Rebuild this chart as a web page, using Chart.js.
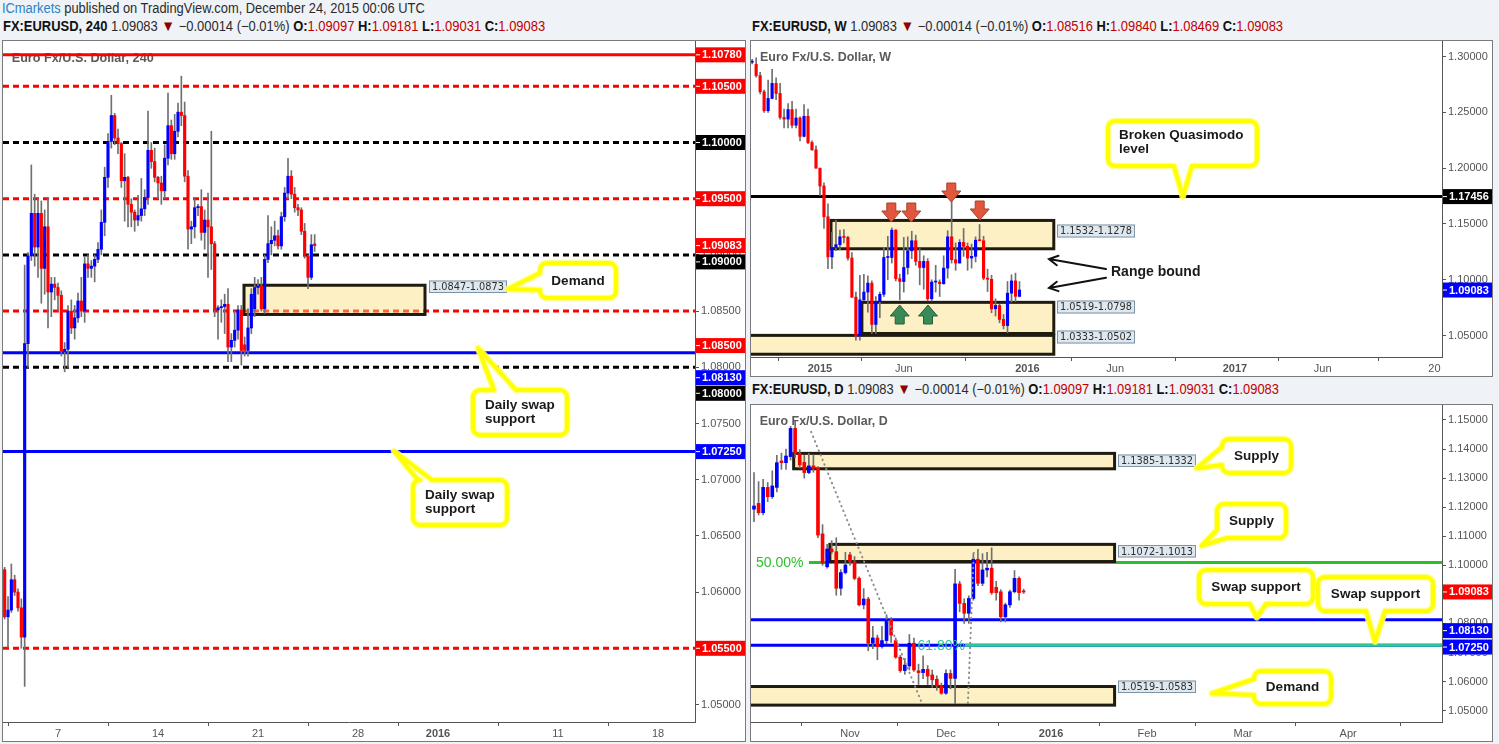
<!DOCTYPE html>
<html>
<head>
<meta charset="utf-8">
<title>EURUSD 240 / W / D</title>
<script src="https://cdn.jsdelivr.net/npm/chart.js@4/dist/chart.umd.min.js"></script>
<style>
  html, body { margin: 0; padding: 0; }
  body { width: 1499px; height: 744px; background: #eff2f6; position: relative; overflow: hidden;
         font-family: "Liberation Sans", Arial, sans-serif; }
  .panel { position: absolute; box-sizing: border-box; border: 1px solid #7a7a7a; background: #fff; }
  canvas { position: absolute; }
  .hdr { position: absolute; white-space: nowrap; font-size: 14px; line-height: 16px; color: #2b2b2b; transform-origin: 0 50%; }
  .hdr b { font-weight: bold; color: #111; }
  .hdr .ic { color: #2b83c6; }
  .hdr .v { color: #c00000; }
  .hdr .dn { color: #8b0000; font-size: 15px; }
</style>
</head>
<body>
<div class="panel" style="left:2px;top:40px;width:744px;height:702px"></div>
<div class="panel" style="left:750px;top:40px;width:743px;height:337px"></div>
<div class="panel" style="left:750px;top:404px;width:743px;height:338px"></div>
<canvas id="c4h" width="742" height="700" style="left:3px;top:41px"></canvas>
<canvas id="cw" width="741" height="335" style="left:751px;top:41px"></canvas>
<canvas id="cd" width="741" height="336" style="left:751px;top:405px"></canvas>
<div class="hdr" id="hTop" style="left:2px;top:0px"><span class="ic">ICmarkets</span> published on TradingView.com, December 24, 2015 00:06 UTC</div>
<div class="hdr" id="h4" style="left:3px;top:18px"></div>
<div class="hdr" id="hW" style="left:752px;top:18px"></div>
<div class="hdr" id="hD" style="left:752px;top:381px"></div>
<script>
// ---------- 4H candles (Dec 2 - Dec 24, 2015) ----------
const h4Open = [1.0605,1.0620,1.0578,1.0584,1.0611,1.0600,1.0586,1.0560,1.0821,1.0899,
  1.0937,1.0907,1.0937,1.0888,1.0925,1.0867,1.0874,1.0871,1.0864,1.0814,
  1.0816,1.0850,1.0835,1.0844,1.0859,1.0850,1.0892,1.0888,1.0890,1.0896,
  1.0905,1.0929,1.0969,1.1001,1.1024,1.1004,1.0999,1.0966,1.0969,1.0945,
  1.0938,1.0931,1.0935,1.0941,1.0951,1.0993,1.0983,1.0969,1.0964,1.0957,
  1.0986,1.1015,1.0990,1.1010,1.1027,1.1024,1.0970,1.0923,1.0925,1.0942,
  1.0943,1.0920,1.0931,1.0925,1.0910,1.0851,1.0853,1.0854,1.0856,1.0818,
  1.0824,1.0833,1.0851,1.0820,1.0815,1.0835,1.0852,1.0871,1.0872,1.0852,
  1.0896,1.0910,1.0913,1.0917,1.0908,1.0934,1.0955,1.0970,1.0954,1.0942,
  1.0940,1.0921,1.0899,1.0880,1.09097];
const h4High = [1.0615,1.0622,1.0596,1.0625,1.0615,1.0603,1.0594,1.0891,1.0902,1.0980,
  1.0954,1.0950,1.0948,1.0940,1.0950,1.0880,1.0880,1.0875,1.0868,1.0822,
  1.0855,1.0860,1.0855,1.0866,1.0880,1.0898,1.0900,1.0895,1.0900,1.0911,
  1.0940,1.0978,1.1008,1.1042,1.1026,1.1012,1.1000,1.0990,1.0970,1.0950,
  1.0940,1.0953,1.0968,1.0958,1.1028,1.1000,1.0995,1.0970,1.0970,1.0998,
  1.1044,1.1020,1.1025,1.1035,1.1059,1.1036,1.0975,1.0930,1.0950,1.0945,
  1.0958,1.0940,1.0955,1.1010,1.0912,1.0855,1.0860,1.0865,1.0870,1.0830,
  1.0850,1.0855,1.0855,1.0827,1.0852,1.0870,1.0880,1.0878,1.0880,1.0900,
  1.0935,1.0925,1.0930,1.0922,1.0938,1.0960,1.0986,1.0975,1.0960,1.0945,
  1.0942,1.0928,1.0900,1.0918,1.09181];
const h4Low = [1.0600,1.0576,1.0551,1.0582,1.0597,1.0583,1.0550,1.0516,1.0800,1.0895,
  1.0890,1.0880,1.0857,1.0865,1.0835,1.0845,1.0860,1.0850,1.0810,1.0796,
  1.0800,1.0830,1.0825,1.0840,1.0845,1.0840,1.0880,1.0880,1.0876,1.0893,
  1.0900,1.0917,1.0960,1.0995,1.0998,1.0990,1.0960,1.0930,1.0925,1.0925,
  1.0921,1.0926,1.0930,1.0935,1.0945,1.0977,1.0965,1.0950,1.0945,1.0950,
  1.0980,1.0985,1.0985,1.1005,1.1015,1.0965,1.0905,1.0910,1.0915,1.0935,
  1.0913,1.0905,1.0880,1.0887,1.0845,1.0825,1.0840,1.0830,1.0805,1.0805,
  1.0818,1.0825,1.0802,1.0810,1.0810,1.0830,1.0845,1.0865,1.0850,1.0848,
  1.0893,1.0900,1.0908,1.0905,1.0905,1.0930,1.0950,1.0950,1.0938,1.0935,
  1.0918,1.0897,1.0870,1.0878,1.09031];
const h4Close = [1.0612,1.0578,1.0584,1.0611,1.0600,1.0586,1.0560,1.0821,1.0899,1.0937,
  1.0907,1.0937,1.0888,1.0925,1.0867,1.0874,1.0871,1.0864,1.0814,1.0816,
  1.0850,1.0835,1.0844,1.0859,1.0850,1.0892,1.0888,1.0890,1.0896,1.0905,
  1.0929,1.0969,1.1001,1.1024,1.1004,1.0999,1.0966,1.0969,1.0945,1.0938,
  1.0931,1.0935,1.0941,1.0951,1.0993,1.0983,1.0969,1.0964,1.0957,1.0986,
  1.1015,1.0990,1.1010,1.1027,1.1024,1.0970,1.0923,1.0925,1.0942,1.0943,
  1.0920,1.0931,1.0925,1.0910,1.0851,1.0853,1.0854,1.0856,1.0818,1.0824,
  1.0833,1.0851,1.0815,1.0815,1.0835,1.0865,1.0871,1.0872,1.0852,1.0896,
  1.0910,1.0913,1.0917,1.0908,1.0934,1.0955,1.0970,1.0954,1.0942,1.0940,
  1.0921,1.0899,1.0880,1.0909,1.09083];
const h4TickIdx = [17, 47, 77, 107, 131, 167, 197];
const h4TickLabels = ['7', '14', '21', '28', '2016', '11', '18'];
const h4PriceTicks = [1.05, 1.055, 1.06, 1.065, 1.07, 1.075, 1.08, 1.085, 1.09, 1.095, 1.10, 1.105];
const h4Levels = [1.1078, 1.1050, 1.1000, 1.0950, 1.0900, 1.0850, 1.0813, 1.0800, 1.0725, 1.0550];
const h4Demand = [1.0847, 1.0873];

// ---------- Weekly candles (Sep 2014 - Dec 2015) ----------
const wkOpen = [1.2950,1.2930,1.2830,1.2685,1.2515,1.2625,1.2760,1.2670,1.2455,1.2440,
  1.2525,1.2385,1.2450,1.2285,1.2465,1.2230,1.2165,1.2000,1.1840,1.1565,
  1.1205,1.1290,1.1315,1.1385,1.1380,1.1195,1.0845,1.0495,1.0820,1.0890,
  1.0970,1.0600,1.0805,1.0870,1.1200,1.1200,1.1445,1.1010,1.0985,1.1110,
  1.1260,1.1350,1.1165,1.1110,1.1165,1.0830,1.0980,1.0980,1.0965,1.1105,
  1.1385,1.1180,1.1150,1.1335,1.1300,1.1195,1.1210,1.1355,1.1350,1.1015,
  1.1005,1.0740,1.0770,1.0645,1.0590,1.0880,1.0990,1.08516];
const wkHigh = [1.2975,1.2990,1.2860,1.2700,1.2790,1.2887,1.2810,1.2760,1.2530,1.2580,
  1.2600,1.2530,1.2460,1.2570,1.2530,1.2245,1.2200,1.2000,1.1870,1.1680,
  1.1425,1.1535,1.1445,1.1450,1.1390,1.1245,1.0890,1.1040,1.1050,1.1035,
  1.0990,1.0850,1.0890,1.1290,1.1390,1.1465,1.1450,1.1050,1.1380,1.1385,
  1.1435,1.1400,1.1280,1.1215,1.1190,1.1000,1.1130,1.1000,1.1215,1.1440,
  1.1715,1.1330,1.1360,1.1460,1.1330,1.1320,1.1385,1.1495,1.1390,1.1095,
  1.1040,1.0830,1.0780,1.0690,1.0985,1.1045,1.1060,1.09840];
const wkLow = [1.2935,1.2815,1.2665,1.2500,1.2500,1.2620,1.2615,1.2440,1.2360,1.2360,
  1.2360,1.2360,1.2245,1.2280,1.2220,1.2160,1.2000,1.1755,1.1460,1.1100,
  1.1100,1.1260,1.1270,1.1330,1.1175,1.0840,1.0460,1.0460,1.0815,1.0710,
  1.0520,1.0520,1.0660,1.0850,1.1000,1.1150,1.0990,1.0820,1.0890,1.1050,
  1.1190,1.1130,1.0955,1.0915,1.0810,1.0810,1.0890,1.0850,1.0960,1.1015,
  1.1150,1.1085,1.1150,1.1210,1.1085,1.1105,1.1160,1.1350,1.1000,1.0895,
  1.0705,1.0675,1.0615,1.0560,1.0525,1.0800,1.0805,1.08469];
const wkClose = [1.2957,1.2830,1.2685,1.2515,1.2625,1.2760,1.2670,1.2455,1.2440,1.2525,
  1.2385,1.2450,1.2285,1.2465,1.2230,1.2165,1.2000,1.1840,1.1565,1.1205,
  1.1290,1.1315,1.1385,1.1380,1.1195,1.0845,1.0495,1.0820,1.0890,1.0970,
  1.0600,1.0805,1.0870,1.1200,1.1200,1.1445,1.1010,1.0985,1.1110,1.1260,
  1.1350,1.1165,1.1110,1.1165,1.0830,1.0980,1.0980,1.0965,1.1105,1.1385,
  1.1180,1.1150,1.1335,1.1300,1.1195,1.1210,1.1355,1.1350,1.1015,1.1005,
  1.0740,1.0770,1.0645,1.0590,1.0880,1.0990,1.0852,1.09083];
const wkTickIdx = [17, 38, 69, 91, 121, 143, 171];
const wkTickLabels = ['2015', 'Jun', '2016', 'Jun', '2017', 'Jun', '20'];
const wkPriceTicks = [1.05, 1.10, 1.15, 1.20, 1.25, 1.30];
const wkQuasimodo = 1.17456;
const wkZones = [[1.1278, 1.1532], [1.0519, 1.0798], [1.0333, 1.0502]];
const wkZoneLabels = ['1.1532-1.1278', '1.0519-1.0798', '1.0333-1.0502'];

// ---------- Daily candles (Oct 2 - Dec 24, 2015) ----------
const dOpen = [1.1193,1.1213,1.1181,1.1268,1.1236,1.1268,1.1359,1.1353,1.1374,1.1471,
  1.1385,1.1354,1.1319,1.1342,1.1334,1.1108,1.0995,1.1056,1.1047,1.0921,
  1.0975,1.1036,1.1013,1.0955,1.0864,1.0884,1.0732,1.0750,1.0720,1.0741,
  1.0812,1.0741,1.0684,1.0638,1.0654,1.0732,1.0637,1.0631,1.0642,1.0623,
  1.0608,1.0585,1.0560,1.0628,1.0611,1.0936,1.0869,1.0835,1.0886,1.1021,
  1.0938,1.0984,1.0990,1.0924,1.0909,1.0823,1.0864,1.0909,1.0955,1.09097];
const dHigh = [1.1319,1.1288,1.1296,1.1285,1.1325,1.1378,1.1386,1.1400,1.1478,1.1495,
  1.1398,1.1378,1.1385,1.1380,1.1340,1.1140,1.1072,1.1085,1.1095,1.0985,
  1.1045,1.1045,1.1030,1.0960,1.0920,1.0890,1.0790,1.0760,1.0790,1.0830,
  1.0820,1.0750,1.0690,1.0680,1.0762,1.0750,1.0660,1.0689,1.0655,1.0640,
  1.0620,1.0595,1.0640,1.0640,1.0986,1.0945,1.0885,1.0895,1.1040,1.1055,
  1.1040,1.1045,1.1060,1.0945,1.0916,1.0870,1.0915,1.0982,1.0960,1.09181];
const dLow = [1.1150,1.1173,1.1173,1.1219,1.1230,1.1252,1.1330,1.1330,1.1362,1.1370,
  1.1335,1.1300,1.1315,1.1320,1.1095,1.1000,1.0990,1.1040,1.0897,1.0897,
  1.0970,1.1000,1.0950,1.0860,1.0850,1.0706,1.0713,1.0675,1.0715,1.0730,
  1.0735,1.0680,1.0632,1.0625,1.0640,1.0635,1.0590,1.0610,1.0590,1.0580,
  1.0570,1.0556,1.0556,1.0575,1.0524,1.0840,1.0800,1.0800,1.0880,1.0930,
  1.0930,1.0960,1.0900,1.0880,1.0805,1.0805,1.0855,1.0905,1.0880,1.09031];
const dClose = [1.1204,1.1181,1.1268,1.1236,1.1273,1.1353,1.1353,1.1376,1.1471,1.1385,
  1.1345,1.1319,1.1342,1.1334,1.1104,1.1007,1.1056,1.1047,1.0921,1.0975,
  1.1001,1.1013,1.0955,1.0864,1.0884,1.0732,1.0750,1.0720,1.0741,1.0812,
  1.0760,1.0684,1.0638,1.0657,1.0732,1.0640,1.0631,1.0642,1.0619,1.0606,
  1.0585,1.0560,1.0628,1.0611,1.0936,1.0869,1.0835,1.0886,1.1021,1.0938,
  1.0984,1.0990,1.0906,1.0906,1.0823,1.0864,1.0909,1.0955,1.0906,1.09083];
const dTickIdx = [21, 42, 65, 86, 107, 130];
const dTickLabels = ['Nov', 'Dec', '2016', 'Feb', 'Mar', 'Apr'];
const dPriceTicks = [1.05, 1.06, 1.07, 1.08, 1.09, 1.10, 1.11, 1.12, 1.13, 1.14, 1.15];
const dSwapLevels = [1.0813, 1.0725];
const dFibLevels = [1.1010, 1.0725];
const dFibLabels = ['50.00%', '61.80%'];
const dZones = [[1.1332, 1.1385], [1.1013, 1.1072], [1.0519, 1.0583]];
const dZoneLabels = ['1.1385-1.1332', '1.1072-1.1013', '1.0519-1.0583'];

const UP = '#0000ff', DOWN = '#ff0000', WICK = '#707070';
const RED = '#ff0000', BLUE = '#0000ff', BLACK = '#000000';
const DASH = [6, 4];
const CALLOUT_FONT = 'bold 13.5px "Liberation Sans"';

// ---------- header lines ----------
function hdr(id, tf, o, h, l, c) {
  const f = v => v.toFixed(5);
  document.getElementById(id).innerHTML =
    '<b>FX:EURUSD, ' + tf + '</b> ' + f(c) + ' <span class="dn">&#9660;</span> &minus;0.00014 (&minus;0.01%) ' +
    '<b>O:</b><span class="v">' + f(o) + '</span> <b>H:</b><span class="v">' + f(h) + '</span> ' +
    '<b>L:</b><span class="v">' + f(l) + '</span> <b>C:</b><span class="v">' + f(c) + '</span>';
}
const last = a => a[a.length - 1];
hdr('h4', '240', last(h4Open), last(h4High), last(h4Low), last(h4Close));
hdr('hW', 'W', last(wkOpen), last(wkHigh), last(wkLow), last(wkClose));
hdr('hD', 'D', last(dOpen), last(dHigh), last(dLow), last(dClose));
[['hTop', 423], ['h4', 542], ['hW', 531], ['hD', 527]].forEach(([id, w]) => {
  const el = document.getElementById(id);
  el.style.transform = 'scaleX(' + (w / el.offsetWidth) + ')';
});

// ---------- drawing helpers ----------
function fitText(ctx, text, x, y, w, font, color, align) {
  ctx.save();
  ctx.font = font; ctx.fillStyle = color; ctx.textBaseline = 'middle'; ctx.textAlign = 'left';
  const m = ctx.measureText(text).width;
  const s = w ? w / m : 1;
  const x0 = align === 'center' ? x - m * s / 2 : align === 'right' ? x - m * s : x;
  ctx.translate(x0, y); ctx.scale(s, 1); ctx.fillText(text, 0, 0);
  ctx.restore();
}

function callout(ctx, C, ox, oy) {
  const x = C.box[0] - ox, y = C.box[1] - oy, w = C.box[2], h = C.box[3], r = 7;
  const tx = C.tip[0] - ox, ty = C.tip[1] - oy, side = C.side;
  let b1, b2;
  if (side === 'left') { b1 = C.base[0] - oy; b2 = C.base[1] - oy; }
  else if (side === 'bl') { b1 = C.base[0] - ox; b2 = C.base[1] - oy; }
  else { b1 = C.base[0] - ox; b2 = C.base[1] - ox; }
  ctx.beginPath();
  ctx.moveTo(x + r, y);
  if (side === 'top') { ctx.lineTo(b1, y); ctx.lineTo(tx, ty); ctx.lineTo(b2, y); }
  ctx.lineTo(x + w - r, y);
  ctx.arcTo(x + w, y, x + w, y + r, r);
  ctx.lineTo(x + w, y + h - r);
  ctx.arcTo(x + w, y + h, x + w - r, y + h, r);
  if (side === 'bottom') { ctx.lineTo(b2, y + h); ctx.lineTo(tx, ty); ctx.lineTo(b1, y + h); }
  if (side === 'bl') { ctx.lineTo(b1, y + h); ctx.lineTo(tx, ty); ctx.lineTo(x, b2); }
  else { ctx.lineTo(x + r, y + h); ctx.arcTo(x, y + h, x, y + h - r, r); }
  if (side === 'left') { ctx.lineTo(x, b2); ctx.lineTo(tx, ty); ctx.lineTo(x, b1); }
  ctx.lineTo(x, y + r);
  ctx.arcTo(x, y, x + r, y, r);
  ctx.closePath();
  ctx.fillStyle = '#ffffff'; ctx.fill();
  ctx.lineJoin = 'round';
  ctx.strokeStyle = 'rgba(255,255,120,0.85)'; ctx.lineWidth = 6.5; ctx.stroke();
  ctx.strokeStyle = '#ffff00'; ctx.lineWidth = 4; ctx.stroke();
  for (const t of C.text) {
    fitText(ctx, t[0], t[1] - ox, t[2] - oy, null, CALLOUT_FONT, '#1a1a1a', t[3] || 'left');
  }
}

function blockArrow(ctx, tx, ty, dir, fill, stroke) {
  const s = dir === 'down' ? -1 : 1, hw = 9.5, sw = 4.5, hh = 11, tot = 19;
  ctx.beginPath();
  ctx.moveTo(tx, ty);
  ctx.lineTo(tx - hw, ty + s * hh); ctx.lineTo(tx - sw, ty + s * hh);
  ctx.lineTo(tx - sw, ty + s * tot); ctx.lineTo(tx + sw, ty + s * tot);
  ctx.lineTo(tx + sw, ty + s * hh); ctx.lineTo(tx + hw, ty + s * hh);
  ctx.closePath();
  ctx.fillStyle = fill; ctx.fill();
  ctx.strokeStyle = stroke; ctx.lineWidth = 1; ctx.stroke();
}

function openArrow(ctx, x1, y1, x2, y2) {
  const ang = Math.atan2(y2 - y1, x2 - x1), len = 10, spread = 0.5;
  ctx.strokeStyle = '#111'; ctx.lineWidth = 2; ctx.lineCap = 'round';
  ctx.beginPath(); ctx.moveTo(x1, y1); ctx.lineTo(x2, y2);
  ctx.moveTo(x2 - len * Math.cos(ang - spread), y2 - len * Math.sin(ang - spread));
  ctx.lineTo(x2, y2);
  ctx.lineTo(x2 - len * Math.cos(ang + spread), y2 - len * Math.sin(ang + spread));
  ctx.stroke();
}

function makeDrawings(A) {
  const ox = A.origin[0], oy = A.origin[1];
  return {
    id: 'drawings',
    beforeDatasetsDraw(chart) {
      const {ctx, chartArea: a, scales: {x, y}} = chart;
      ctx.save();
      ctx.beginPath(); ctx.rect(a.left, a.top, a.width, a.height); ctx.clip();
      const T = A.title;
      fitText(ctx, T[0], T[1] - ox, T[2] - oy, T[3], 'bold 13px "Liberation Sans"', '#5a5a5a', 'left');
      for (const L of A.lines) {
        const py = y.getPixelForValue(L.v);
        const x0 = L.from != null ? x.getPixelForValue(L.from) : a.left;
        ctx.strokeStyle = L.c; ctx.lineWidth = L.w || 3; ctx.setLineDash(L.dash || []);
        ctx.beginPath(); ctx.moveTo(x0, py); ctx.lineTo(a.right, py); ctx.stroke();
      }
      ctx.setLineDash([]);
      for (const Z of A.zones) {
        const x0 = x.getPixelForValue(Z.from), x1 = x.getPixelForValue(Z.to);
        const y0 = y.getPixelForValue(Z.hi), y1 = y.getPixelForValue(Z.lo);
        ctx.fillStyle = 'rgba(250,222,126,0.46)';
        ctx.fillRect(x0, y0, x1 - x0, y1 - y0);
        ctx.strokeStyle = '#1f1b10'; ctx.lineWidth = 3;
        ctx.strokeRect(x0, y0, x1 - x0, y1 - y0);
      }
      ctx.restore();
    },
    afterDatasetsDraw(chart) {
      const {ctx, chartArea: a, scales: {x, y}} = chart;
      ctx.save();
      ctx.beginPath(); ctx.rect(a.left, a.top, a.width, a.height); ctx.clip();
      for (const D of A.dotted || []) {
        ctx.strokeStyle = '#8c8c8c'; ctx.lineWidth = 2; ctx.lineCap = 'round'; ctx.setLineDash([0.5, 4.5]);
        ctx.beginPath();
        ctx.moveTo(x.getPixelForValue(D[0]), y.getPixelForValue(D[1]));
        ctx.lineTo(x.getPixelForValue(D[2]), y.getPixelForValue(D[3]));
        ctx.stroke();
      }
      ctx.setLineDash([]); ctx.lineCap = 'butt';
      for (const t of A.texts || []) {
        fitText(ctx, t.s, t.x - ox, y.getPixelForValue(t.v) + (t.dy || 0), null, t.font, t.c, t.align);
      }
      for (const Lb of A.labels) {
        const bx = Lb.x - ox, by = Lb.y - oy;
        ctx.fillStyle = '#dfe8ef'; ctx.fillRect(bx, by, Lb.w, Lb.h);
        ctx.strokeStyle = '#7d93a6'; ctx.lineWidth = 1; ctx.strokeRect(bx + 0.5, by + 0.5, Lb.w - 1, Lb.h - 1);
        fitText(ctx, Lb.s, bx + Lb.w / 2, by + Lb.h / 2 + 0.5, Lb.w - 6, '11px "DejaVu Sans"', '#2e2e2e', 'center');
      }
      for (const B of A.arrows || []) blockArrow(ctx, B[0] - ox, B[1] - oy, B[2], B[3], B[4]);
      for (const O of A.openArrows || []) openArrow(ctx, O[0] - ox, O[1] - oy, O[2] - ox, O[3] - oy);
      for (const C of A.callouts) callout(ctx, C, ox, oy);
      for (const t of A.free || []) fitText(ctx, t[0], t[1] - ox, t[2] - oy, null, 'bold 14px "Liberation Sans"', '#1a1a1a', 'left');
      ctx.restore();
    },
    afterDraw(chart) {
      const {ctx, chartArea: a, scales: {y}} = chart;
      ctx.save();
      for (const B of A.badges) {
        const py = y.getPixelForValue(B.v) + (B.dy || 0);
        const bx = a.right + 1;
        ctx.fillStyle = B.c; ctx.fillRect(bx, py - 7.5, chart.width - bx, 15);
        ctx.fillStyle = '#fff'; ctx.fillRect(bx, py - 0.5, 4, 1);
        fitText(ctx, B.v.toFixed(5), a.right + 7, py + 0.5, null, 'bold 11px "Liberation Sans"', '#ffffff', 'left');
      }
      ctx.restore();
    }
  };
}

function candleChart(id, o, h, l, c, P) {
  const idx = o.map((_, i) => i);
  const colors = idx.map(i => (c[i] >= o[i] ? UP : DOWN));
  return new Chart(document.getElementById(id), {
    type: 'bar',
    data: {
      datasets: [
        { data: idx.map(i => ({x: i, y: [l[i], h[i]]})), backgroundColor: WICK, barThickness: 1,
          grouped: false, order: 2 },
        { data: idx.map(i => ({x: i, y: [o[i], c[i]]})), backgroundColor: colors, barThickness: P.bodyW,
          minBarLength: 1, grouped: false, order: 1 }
      ]
    },
    options: {
      responsive: false, animation: false, events: [],
      layout: { padding: 0, autoPadding: false },
      plugins: { legend: { display: false }, tooltip: { enabled: false } },
      scales: {
        x: {
          type: 'linear', min: P.xMin, max: P.xMax, offset: false,
          afterBuildTicks: s => { s.ticks = P.xTicks.map(v => ({value: v})); },
          ticks: {
            autoSkip: false, maxRotation: 0, padding: 1, color: '#555',
            font: ctx => ({ family: 'Liberation Sans', size: 11,
              weight: /^\d{4}$/.test(P.xLabels[ctx.index]) ? 'bold' : 'normal' }),
            callback: (v, i) => P.xLabels[i]
          },
          grid: { drawOnChartArea: false, drawTicks: true, tickLength: 4, color: '#555' },
          border: { color: '#555' },
          afterFit: s => { s.height = 19; s.paddingLeft = 0; s.paddingRight = 0; }
        },
        y: {
          position: 'right', min: P.yMin, max: P.yMax,
          afterBuildTicks: s => { s.ticks = P.yTicks.map(v => ({value: v})); },
          ticks: { autoSkip: false, padding: 2, color: '#555', font: { family: 'Liberation Sans', size: 11 },
            callback: v => v.toFixed(5) },
          grid: { drawOnChartArea: false, drawTicks: true, tickLength: 4, color: '#555' },
          border: { color: '#555' },
          afterFit: s => { s.width = 50; s.paddingTop = 0; s.paddingBottom = 0; }
        }
      }
    },
    plugins: [makeDrawings(P.ann)]
  });
}

// ---------- 4H panel ----------
const h4Styles = [
  { c: RED }, { c: RED, dash: DASH }, { c: BLACK, dash: DASH }, { c: RED, dash: DASH }, { c: BLACK, dash: DASH },
  { c: RED, dash: DASH }, { c: BLUE }, { c: BLACK, dash: DASH }, { c: BLUE }, { c: RED, dash: DASH }
];
const h4BadgeColors = [RED, RED, BLACK, RED, BLACK, RED, BLUE, BLACK, BLUE, RED];
const h4BadgeShift = [0, 0, 0, 0, 7, 34.5, 25, 26, 0, 0];
candleChart('c4h', h4Open, h4High, h4Low, h4Close, {
  bodyW: 2.5, xMin: 0.5, xMax: 208.1, yMin: 1.048443, yMax: 1.109030,
  xTicks: h4TickIdx, xLabels: h4TickLabels, yTicks: h4PriceTicks,
  ann: {
    origin: [3, 41],
    title: ['Euro Fx/U.S. Dollar, 240', 11.7, 58.3, 142],
    lines: h4Levels.map((v, k) => Object.assign({ v }, h4Styles[k])),
    zones: [{ from: 72.8, to: 127.1, lo: h4Demand[0], hi: h4Demand[1] }],
    labels: [{ s: h4Demand[0].toFixed(4) + '-' + h4Demand[1].toFixed(4), x: 429, y: 280.5, w: 78, h: 12.5 }],
    callouts: [
      { box: [540, 263, 76, 35], side: 'left', base: [273, 290], tip: [508, 289], text: [['Demand', 578, 281, 'center']] },
      { box: [473, 390, 94, 45], side: 'top', base: [494, 516], tip: [478, 348],
        text: [['Daily swap', 485, 405.5], ['support', 485, 419]] },
      { box: [413, 480, 94, 45], side: 'top', base: [418, 432], tip: [394, 451],
        text: [['Daily swap', 425, 495.5], ['support', 425, 509]] }
    ],
    badges: [
      { v: last(h4Close), c: RED }
    ].concat(h4Levels.map((v, k) => ({ v, c: h4BadgeColors[k], dy: h4BadgeShift[k] })))
  }
});

// ---------- Weekly panel ----------
candleChart('cw', wkOpen, wkHigh, wkLow, wkClose, {
  bodyW: 2.5, xMin: -0.29, xMax: 172.9, yMin: 1.030824, yMax: 1.313978,
  xTicks: wkTickIdx, xLabels: wkTickLabels, yTicks: wkPriceTicks,
  ann: {
    origin: [751, 41],
    title: ['Euro Fx/U.S. Dollar, W', 760, 57, 131],
    lines: [{ v: wkQuasimodo, c: BLACK }],
    zones: [
      { from: 19.76, to: 75.6, lo: wkZones[0][0], hi: wkZones[0][1] },
      { from: 27.5, to: 75.6, lo: wkZones[1][0], hi: wkZones[1][1] },
      { from: -2, to: 75.6, lo: wkZones[2][0], hi: wkZones[2][1] }
    ],
    labels: [
      { s: wkZoneLabels[0], x: 1057, y: 224.5, w: 78, h: 13 },
      { s: wkZoneLabels[1], x: 1057, y: 300.5, w: 78, h: 13 },
      { s: wkZoneLabels[2], x: 1057, y: 330.5, w: 78, h: 13 }
    ],
    arrows: [
      [891.3, 222, 'down', '#e0573d', '#a8402b'], [911.3, 222, 'down', '#e0573d', '#a8402b'],
      [951.3, 202, 'down', '#e0573d', '#a8402b'], [979.7, 220, 'down', '#e0573d', '#a8402b'],
      [899.7, 305, 'up', '#3a8a58', '#245f3b'], [928, 305, 'up', '#3a8a58', '#245f3b']
    ],
    openArrows: [[1106, 269, 1049, 259], [1106, 277.7, 1049, 288]],
    free: [['Range bound', 1111, 271.7]],
    callouts: [
      { box: [1108, 121, 149, 45], side: 'bottom', base: [1174, 1192], tip: [1182.7, 196.7],
        text: [['Broken Quasimodo', 1119, 135.5], ['level', 1119, 149]] }
    ],
    badges: [{ v: wkQuasimodo, c: BLACK }, { v: last(wkClose), c: BLUE }]
  }
});

// ---------- Daily panel ----------
candleChart('cd', dOpen, dHigh, dLow, dClose, {
  bodyW: 3, xMin: -0.656, xMax: 150.54, yMin: 1.046096, yMax: 1.155143,
  xTicks: dTickIdx, xLabels: dTickLabels, yTicks: dPriceTicks,
  ann: {
    origin: [751, 405],
    title: ['Euro Fx/U.S. Dollar, D', 759.7, 421.5, 128],
    lines: [
      { v: dFibLevels[0], c: '#2cbf2c', from: 12.03 },
      { v: dSwapLevels[0], c: BLUE },
      { v: dSwapLevels[1], c: BLUE },
      { v: dFibLevels[1], c: '#2bc994', from: 46.17 }
    ],
    zones: [
      { from: 8.68, to: 78.9, lo: dZones[0][0], hi: dZones[0][1] },
      { from: 16.6, to: 78.9, lo: dZones[1][0], hi: dZones[1][1] },
      { from: -2, to: 78.9, lo: dZones[2][0], hi: dZones[2][1] }
    ],
    labels: [
      { s: dZoneLabels[0], x: 1118, y: 454.5, w: 78, h: 12.5 },
      { s: dZoneLabels[1], x: 1118, y: 545, w: 78, h: 12.5 },
      { s: dZoneLabels[2], x: 1118, y: 680.5, w: 78, h: 12.5 }
    ],
    dotted: [[12.5, 1.1459, 36.6, 1.0531], [46.8, 1.0526, 48.1, 1.1047]],
    texts: [
      { s: dFibLabels[0], x: 756, v: dFibLevels[0], dy: 0.5, font: '14px "Liberation Sans"', c: '#2cbf2c', align: 'left' },
      { s: dFibLabels[1], x: 965, v: dFibLevels[1], dy: 0.5, font: '14px "Liberation Sans"', c: '#2bc994', align: 'right' }
    ],
    callouts: [
      { box: [1222, 439, 69, 34], side: 'left', base: [447, 465], tip: [1196.7, 468.3], text: [['Supply', 1256.5, 456, 'center']] },
      { box: [1217, 504, 69, 34], side: 'bl', base: [1227, 530], tip: [1201.7, 545.7], text: [['Supply', 1251.5, 521, 'center']] },
      { box: [1199, 570, 114, 34], side: 'bottom', base: [1250, 1266], tip: [1256.7, 617.3], text: [['Swap support', 1256, 587, 'center']] },
      { box: [1318, 577, 115, 34], side: 'bottom', base: [1366, 1385], tip: [1375, 641.7], text: [['Swap support', 1375.5, 594, 'center']] },
      { box: [1254, 671, 77, 33], side: 'left', base: [679, 695], tip: [1211.7, 693.3], text: [['Demand', 1292.5, 687.5, 'center']] }
    ],
    badges: [
      { v: last(dClose), c: RED },
      { v: dSwapLevels[0], c: BLUE, dy: 11 },
      { v: dSwapLevels[1], c: BLUE, dy: 1.8 }
    ]
  }
});
</script>
</body>
</html>
